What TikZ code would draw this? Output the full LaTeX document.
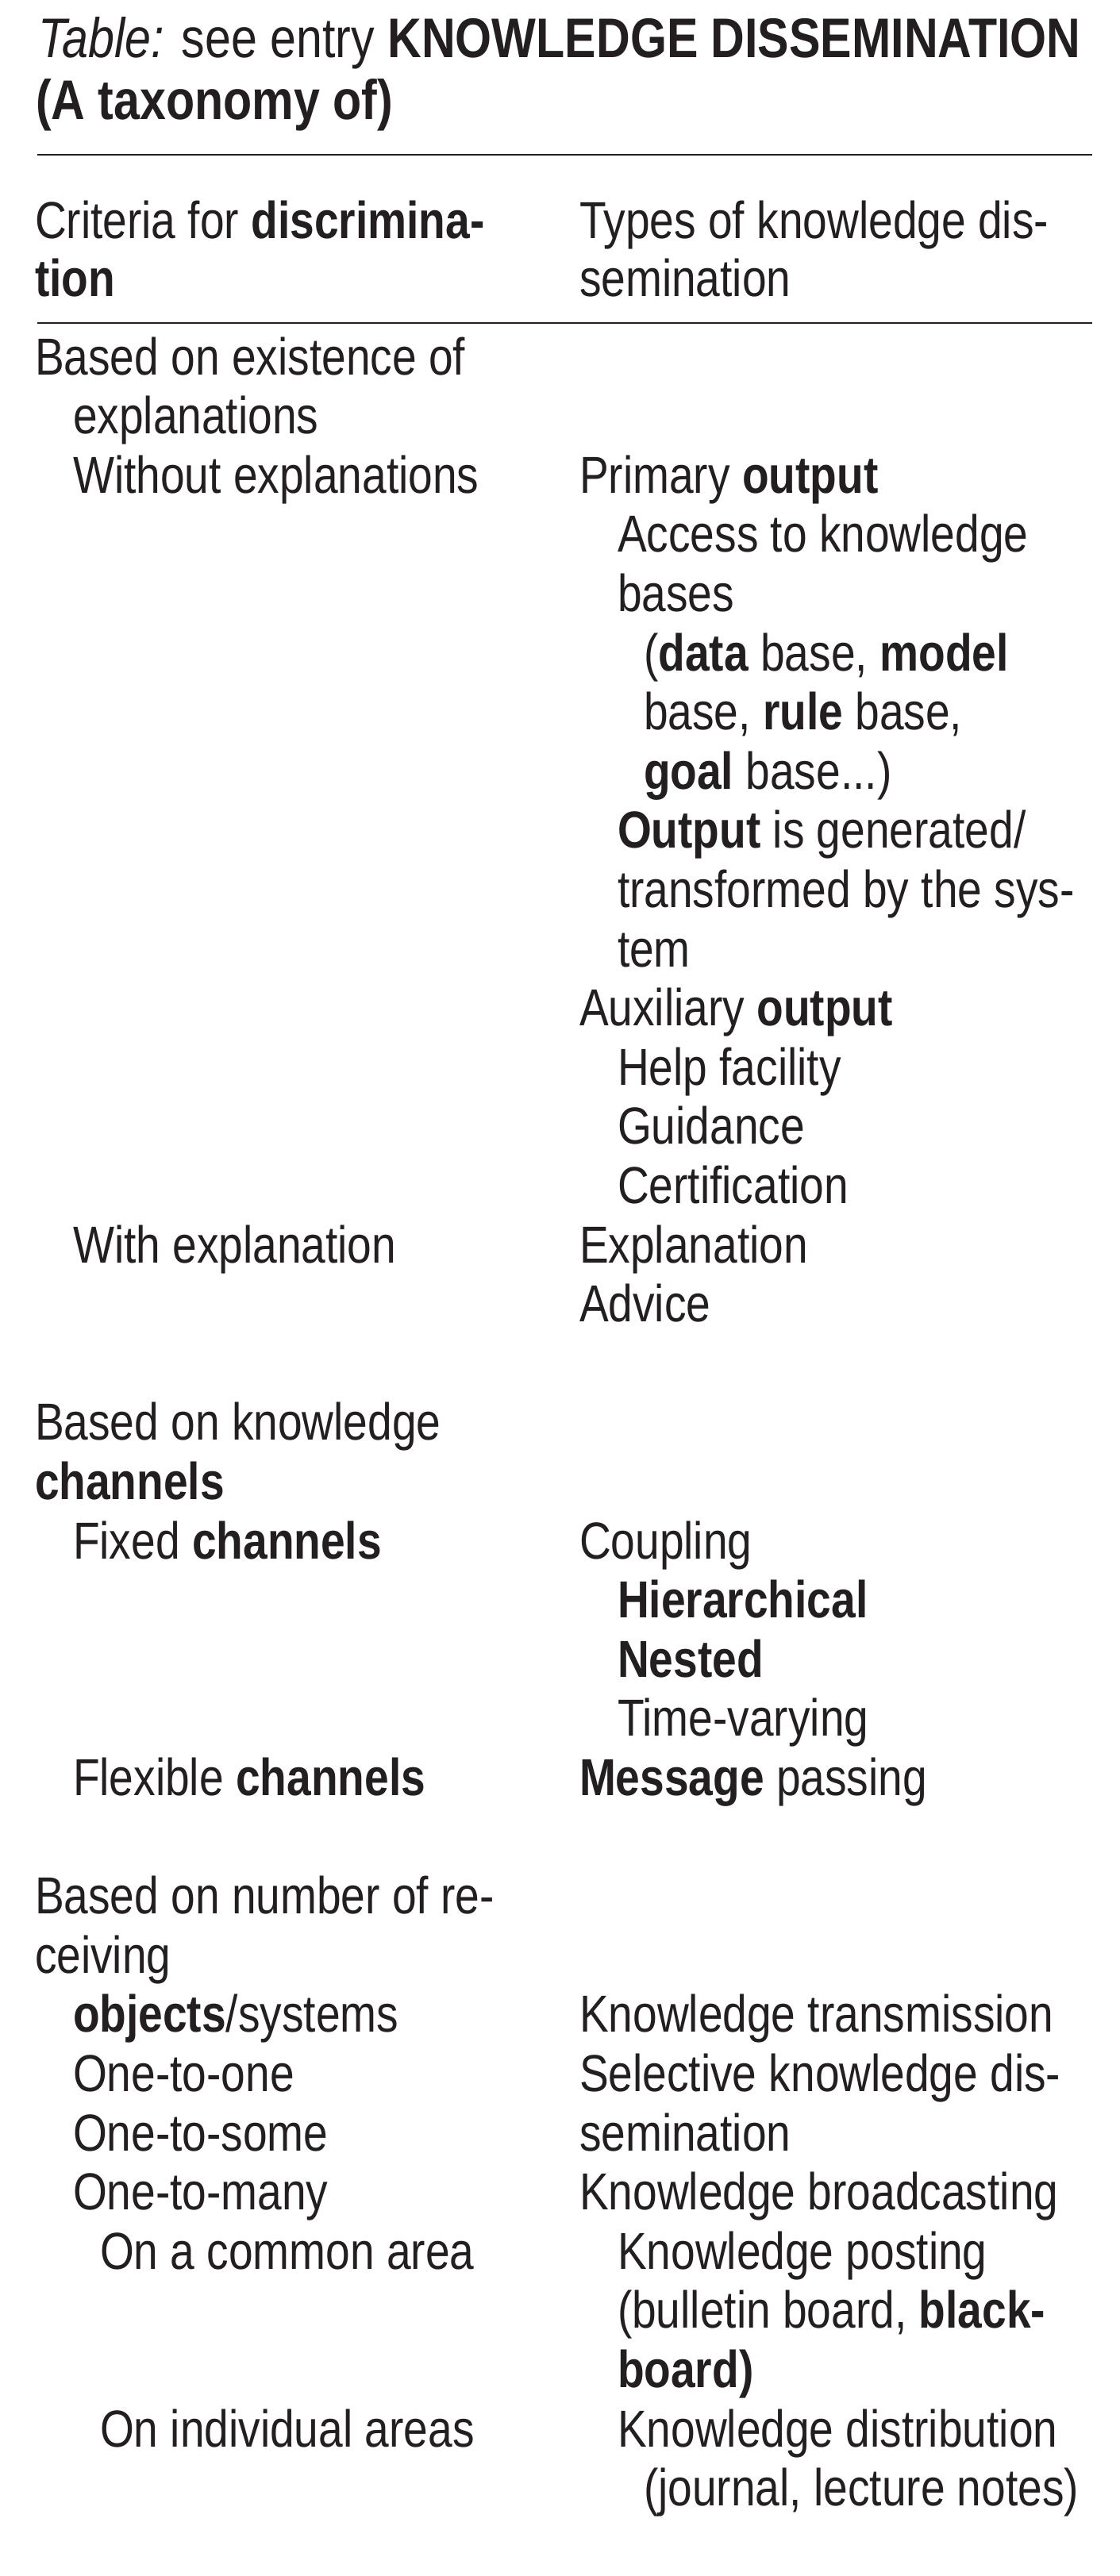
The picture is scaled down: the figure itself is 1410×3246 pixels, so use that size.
\documentclass[tikz,border=0pt]{standalone}
\usepackage{fontspec}
\setmainfont{Liberation Sans}[FakeStretch=0.84]
\definecolor{ink}{HTML}{231F20}
\begin{document}
\begin{tikzpicture}[x=0.5pt,y=-0.5pt,
  txt/.style={inner sep=0pt,outer sep=0pt,anchor=base west,text=ink,font=\fontsize{32.8}{37}\selectfont},
  ttl/.style={txt,font=\fontsize{35.2}{39}\selectfont},
  rulel/.style={draw=ink,line width=1pt}]
\useasboundingbox[fill=white] (0,0) rectangle (1410,3246);
\def\Lz{44}\def\Lo{92}\def\Lt{126}\def\Rz{730}\def\Ro{778}\def\Rt{811}
\def\yy#1{472+74.6*#1}
% title
\node[ttl] (t1) at (48,72) {\textit{Table:} see entry \textbf{KNOWLEDGE DISSEMINATION}};
\node[ttl] (t2) at (45,150) {\textbf{(A taxonomy of)}};
\coordinate (ra1) at (47,195); \coordinate (rb1) at (1376,195);
\draw[rulel] (ra1) -- (rb1);
% header
\node[txt] (h1l) at (\Lz,300) {Criteria for \textbf{discrimina-}};
\node[txt] (h2l) at (\Lz,373) {\textbf{tion}};
\node[txt] (h1r) at (\Rz,300) {Types of knowledge dis-};
\node[txt] (h2r) at (\Rz,373) {semination};
\coordinate (ra2) at (47,407); \coordinate (rb2) at (1376,407);
\draw[rulel] (ra2) -- (rb2);
% body
\node[txt] (a0) at (\Lz,{\yy{0}}) {Based on existence of};
\node[txt] (a1) at (\Lo,{\yy{1}}) {explanations};
\node[txt] (a2) at (\Lo,{\yy{2}}) {Without explanations};
\node[txt] (b2) at (\Rz,{\yy{2}}) {Primary \textbf{output}};
\node[txt] (b3) at (\Ro,{\yy{3}}) {Access to knowledge};
\node[txt] (b4) at (\Ro,{\yy{4}}) {bases};
\node[txt] (b5) at (\Rt,{\yy{5}}) {(\textbf{data} base, \textbf{model}};
\node[txt] (b6) at (\Rt,{\yy{6}}) {base, \textbf{rule} base,};
\node[txt] (b7) at (\Rt,{\yy{7}}) {\textbf{goal} base...)};
\node[txt] (b8) at (\Ro,{\yy{8}}) {\textbf{Output} is generated/};
\node[txt] (b9) at (\Ro,{\yy{9}}) {transformed by the sys-};
\node[txt] (b10) at (\Ro,{\yy{10}}) {tem};
\node[txt] (b11) at (\Rz,{\yy{11}}) {Auxiliary \textbf{output}};
\node[txt] (b12) at (\Ro,{\yy{12}}) {Help facility};
\node[txt] (b13) at (\Ro,{\yy{13}}) {Guidance};
\node[txt] (b14) at (\Ro,{\yy{14}}) {Certification};
\node[txt] (a15) at (\Lo,{\yy{15}}) {With explanation};
\node[txt] (b15) at (\Rz,{\yy{15}}) {Explanation};
\node[txt] (b16) at (\Rz,{\yy{16}}) {Advice};
\node[txt] (a18) at (\Lz,{\yy{18}}) {Based on knowledge};
\node[txt] (a19) at (\Lz,{\yy{19}}) {\textbf{channels}};
\node[txt] (a20) at (\Lo,{\yy{20}}) {Fixed \textbf{channels}};
\node[txt] (b20) at (\Rz,{\yy{20}}) {Coupling};
\node[txt] (b21) at (\Ro,{\yy{21}}) {\textbf{Hierarchical}};
\node[txt] (b22) at (\Ro,{\yy{22}}) {\textbf{Nested}};
\node[txt] (b23) at (\Ro,{\yy{23}}) {Time-varying};
\node[txt] (a24) at (\Lo,{\yy{24}}) {Flexible \textbf{channels}};
\node[txt] (b24) at (\Rz,{\yy{24}}) {\textbf{Message} passing};
\node[txt] (a26) at (\Lz,{\yy{26}}) {Based on number of re-};
\node[txt] (a27) at (\Lz,{\yy{27}}) {ceiving};
\node[txt] (a28) at (\Lo,{\yy{28}}) {\textbf{objects}/systems};
\node[txt] (b28) at (\Rz,{\yy{28}}) {Knowledge transmission};
\node[txt] (a29) at (\Lo,{\yy{29}}) {One-to-one};
\node[txt] (b29) at (\Rz,{\yy{29}}) {Selective knowledge dis-};
\node[txt] (a30) at (\Lo,{\yy{30}}) {One-to-some};
\node[txt] (b30) at (\Rz,{\yy{30}}) {semination};
\node[txt] (a31) at (\Lo,{\yy{31}}) {One-to-many};
\node[txt] (b31) at (\Rz,{\yy{31}}) {Knowledge broadcasting};
\node[txt] (a32) at (\Lt,{\yy{32}}) {On a common area};
\node[txt] (b32) at (\Ro,{\yy{32}}) {Knowledge posting};
\node[txt] (b33) at (\Ro,{\yy{33}}) {(bulletin board, \textbf{black-}};
\node[txt] (b34) at (\Ro,{\yy{34}}) {\textbf{board)}};
\node[txt] (a35) at (\Lt,{\yy{35}}) {On individual areas};
\node[txt] (b35) at (\Ro,{\yy{35}}) {Knowledge distribution};
\node[txt] (b36) at (\Rt,{\yy{36}}) {(journal, lecture notes)};
\end{tikzpicture}
\end{document}
